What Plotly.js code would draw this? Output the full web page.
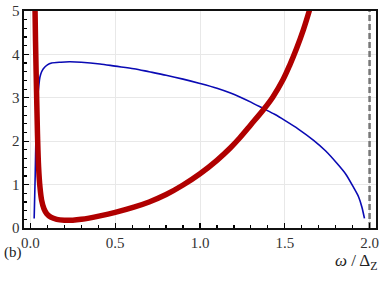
<!DOCTYPE html>
<html>
<head>
<meta charset="utf-8">
<script src="https://cdn.plot.ly/plotly-3.0.1.min.js"></script>
<style>html,body{margin:0;padding:0;background:#fff;}#chart{width:382px;height:288px;}</style>
</head>
<body>
<div id="chart"></div>
<script>
// Blue curve (thin)
const omegaBlue = [0.022,0.028,0.033,0.038,0.043,0.05,0.056,0.066,0.076,0.1,0.125,0.18,0.23,0.3,0.41,0.5,0.61,0.7,0.8,0.9,1.0,1.1,1.18,1.235,1.3,1.375,1.44,1.5,1.58,1.67,1.74,1.81,1.86,1.905,1.935,1.955,1.97];
const valBlue   = [0.22,1.2,2.18,2.7,3.02,3.3,3.48,3.6,3.67,3.76,3.80,3.82,3.83,3.82,3.78,3.73,3.67,3.60,3.52,3.43,3.33,3.22,3.11,3.02,2.9,2.75,2.62,2.48,2.28,2.02,1.78,1.48,1.24,0.94,0.72,0.48,0.22];
// Red curve (thick)
const omegaRed = [0.026,0.03,0.037,0.042,0.048,0.056,0.066,0.08,0.096,0.12,0.155,0.2,0.25,0.3,0.41,0.5,0.61,0.7,0.8,0.9,1.0,1.1,1.18,1.235,1.3,1.375,1.43,1.49,1.53,1.57,1.61,1.645,1.66];
const valRed   = [5.3,4.3,2.94,2.1,1.41,0.95,0.64,0.44,0.33,0.25,0.2,0.18,0.18,0.2,0.28,0.36,0.48,0.6,0.77,0.99,1.25,1.56,1.85,2.08,2.38,2.73,3.02,3.42,3.76,4.14,4.57,5.01,5.22];
// Asymptote
const asymptoteX = [2.0, 2.0];
const asymptoteY = [0, 5];
const xTickVals = [0, 0.5, 1.0, 1.5, 2.0];
const xTickText = ["0.0", "0.5", "1.0", "1.5", "2.0"];
const yTickVals = [0, 1, 2, 3, 4, 5];
const yTickText = ["0", "1", "2", "3", "4", "5"];

const SERIF = 'Liberation Serif, serif';

const traces = [
  {x: asymptoteX, y: asymptoteY, mode: 'lines', line: {color: '#777777', width: 2.5, dash: '6px,3px'}, hoverinfo: 'skip'},
  {x: omegaBlue, y: valBlue, mode: 'lines', line: {color: '#0a0ab4', width: 1.6, shape: 'spline', smoothing: 0.8}},
  {x: omegaRed, y: valRed, mode: 'lines', line: {color: '#b00000', width: 5.5, shape: 'spline', smoothing: 1.0}}
];

const tickFont = {family: SERIF, size: 15, color: '#333'};

const layout = {
  width: 382, height: 288,
  margin: {l: 24, r: 6, t: 11, b: 60},
  showlegend: false,
  font: {family: SERIF},
  paper_bgcolor: '#fff', plot_bgcolor: '#fff',
  xaxis: {
    range: [-0.038, 2.038],
    tickvals: xTickVals, ticktext: xTickText,
    ticks: 'inside', ticklen: 5, tickwidth: 1.2, tickcolor: '#000',
    minor: {dtick: 0.1, tick0: 0, ticks: 'inside', ticklen: 3, tickcolor: '#000', showgrid: false},
    showgrid: true, gridcolor: '#e8e8e8', gridwidth: 1,
    zeroline: false,
    showline: true, linecolor: '#111', linewidth: 1.6, mirror: true,
    tickfont: tickFont
  },
  yaxis: {
    range: [0, 5],
    tickvals: yTickVals, ticktext: yTickText,
    ticks: 'inside', ticklen: 5, tickwidth: 1.2, tickcolor: '#000',
    minor: {dtick: 0.2, tick0: 0, ticks: 'inside', ticklen: 3, tickcolor: '#000', showgrid: false},
    showgrid: true, gridcolor: '#e8e8e8', gridwidth: 1,
    zeroline: false,
    showline: true, linecolor: '#111', linewidth: 1.6, mirror: true,
    tickfont: tickFont
  },
  annotations: [
    {xref: 'paper', yref: 'paper', x: -0.031, y: -0.115, text: '(b)', showarrow: false,
     font: {family: SERIF, size: 15, color: '#222'}, xanchor: 'center', yanchor: 'middle'},
    {xref: 'paper', yref: 'paper', x: 0.946, y: -0.155, text: '<i>ω</i> / Δ<sub>Z</sub>', showarrow: false,
     font: {family: SERIF, size: 17, color: '#222'}, xanchor: 'center', yanchor: 'middle'}
  ]
};

Plotly.newPlot('chart', traces, layout, {staticPlot: true, displayModeBar: false});
</script>
</body>
</html>
